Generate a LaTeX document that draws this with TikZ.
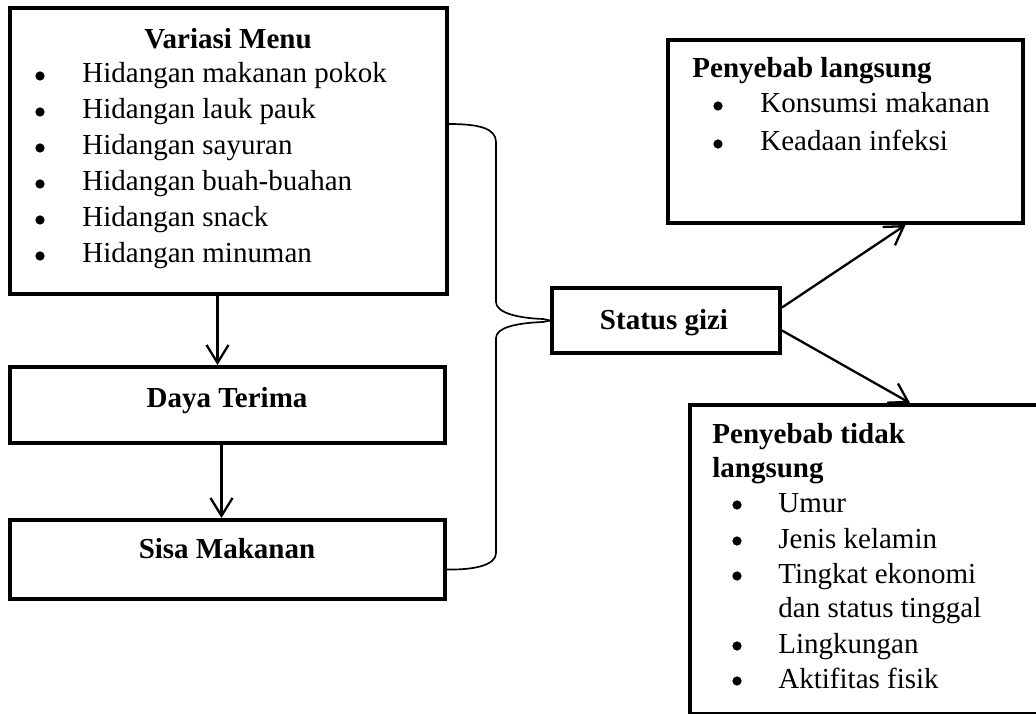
\documentclass[tikz,border=0pt]{standalone}
\usepackage{fontspec}
\setmainfont{Liberation Serif}
\usetikzlibrary{arrows.meta,calc,fit}
\tikzset{
  kotak/.style={draw, line width=1.9pt, inner sep=0pt},
  teks/.style={anchor=base west, inner sep=0pt},
  titik/.style={anchor=base, inner sep=0pt},
  bulat/.style={circle, fill, inner sep=0pt, minimum size=4.4pt},
  panah/.style={-{Straight Barb[length=8.5pt,width=10.5pt]}, line width=1.1pt},
  kurung/.style={line width=0.8pt},
}
\begin{document}
\begin{tikzpicture}[x=0.476pt, y=-0.476pt, every node/.style={font=\fontsize{13.8}{16}\selectfont}]
    \useasboundingbox (0,0) rectangle (1036,714);
    \clip (0,0) rectangle (1036,714);
    \node[kotak, fit={(10,8) (447,294)}] (menu) {};
    \node[kotak, fit={(10,367) (445,443)}] (terima) {};
    \node[kotak, fit={(10,520) (445,599)}] (sisa) {};
    \node[kotak, fit={(552,288) (780,353)}] (gizi) {};
    \node[kotak, fit={(668,40) (1023,223)}] (langsung) {};
    \node[kotak, fit={(690,405) (1060,714)}] (tidak) {};
    \node[titik] (judulmenu) at (228,49) {\textbf{Variasi Menu}};
    \foreach \isi [count=\i] in {Hidangan makanan pokok, Hidangan lauk pauk, Hidangan sayuran, Hidangan buah-buahan, Hidangan snack, Hidangan minuman}{
        \node[bulat] (bm\i) at (40, 40+36*\i) {};
        \node[teks] (m\i) at (82, 47+36*\i) {\isi};
    }
    \node[titik] (judulterima) at (227,407) {\textbf{Daya Terima}};
    \node[titik] (judulsisa) at (227,558) {\textbf{Sisa Makanan}};
    \node[titik] (judulgizi) at (664,330) {\textbf{Status gizi}};
    \node[teks] (judullangsung) at (692,78) {\textbf{Penyebab langsung}};
    \foreach \isi [count=\i] in {Konsumsi makanan, Keadaan infeksi}{
        \node[bulat] (bl\i) at (718, 68+38*\i) {};
        \node[teks] (l\i) at (760, 75+38*\i) {\isi};
    }
    \node[teks] (judultidak1) at (712,443) {\textbf{Penyebab tidak}};
    \node[teks] (judultidak2) at (712,477) {\textbf{langsung}};
    \foreach \y/\isi [count=\i] in {512/Umur, 548/Jenis kelamin, 583/Tingkat ekonomi, 653/Lingkungan, 688/Aktifitas fisik}{
        \node[bulat] (bt\i) at (737,\y-7) {};
        \node[teks] (t\i) at (778,\y) {\isi};
    }
    \node[teks] (t3b) at (778,617) {dan status tinggal};
    \draw[panah] ($(menu.south)+(-11,0)$) -- ($(terima.north)+(-10,0)$);
    \draw[panah] ($(terima.south)+(-6,0)$) -- ($(sisa.north)+(-6,0)$);
    \draw[panah] ($(gizi.east)+(0,-13)$) -- ($(langsung.south)+(60,0)$);
    \draw[panah] ($(gizi.east)+(0,10)$) -- ($(tidak.north)+(35,0)$);
    \draw[kurung] ($(menu.east)+(0,-27)$) .. controls (478,124) and (496,128) .. (496,142) -- (496,302)
        .. controls (496,312) and (515,318) .. (543,319) -- (gizi.west);
    \draw[kurung] (gizi.west) -- (543,322) .. controls (515,323) and (496,328) .. (496,338) -- (496,553)
        .. controls (496,564) and (478,570) .. ($(sisa.east)+(0,10)$);
\end{tikzpicture}
\end{document}
